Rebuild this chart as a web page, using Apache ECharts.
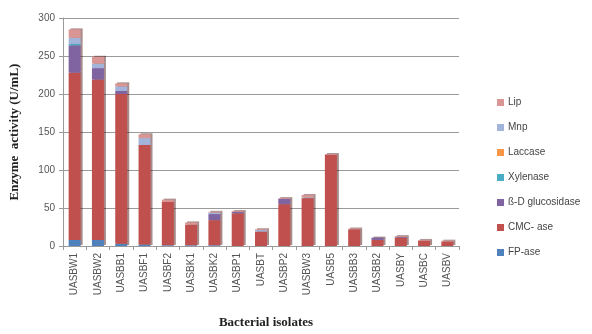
<!DOCTYPE html>
<html>
<head>
<meta charset="utf-8">
<script src="https://cdn.jsdelivr.net/npm/echarts@6/dist/echarts.min.js"></script>
<style>
html,body{margin:0;padding:0;background:#fff;}
#c{width:592px;height:334px;}
</style>
</head>
<body>
<div id="c"></div>
<script>
const categories = ["UASBW1","UASBW2","UASBB1","UASBF1","UASBF2","UASBK1","UASBK2","UASBP1","UASBT","UASBP2","UASBW3","UASB5","UASBB3","UASBB2","UASBY","UASBC","UASBV"];
const fpase      = [8, 8, 3, 2, 1, 1, 1, 0, 0, 0, 0, 0, 0, 0, 0, 0, 0];
const cmcase     = [220, 211, 197, 131, 57, 27, 33, 43, 19, 55, 63, 120, 22, 8, 11, 7, 6];
const glucosidase= [36, 15, 4, 0, 0, 0, 8, 2, 0, 7, 0, 0, 0, 3, 1, 0, 0];
const xylanase   = [2, 0, 0, 0, 0, 0, 0, 0, 0, 0, 0, 0, 0, 0, 0, 0, 0];
const laccase    = [0, 0, 0, 0, 0, 0, 0, 0, 0, 0, 0, 0, 0, 0, 0, 0, 0];
const mnp        = [8, 6, 6, 9, 0, 0, 2, 0, 2, 0, 1, 0, 0, 0, 0, 0, 0];
const lip        = [11, 9, 4, 5, 3, 3, 1, 1, 1, 1, 3, 1, 1, 0, 1, 1, 1];
const yTicks = [0, 50, 100, 150, 200, 250, 300];

const seriesDefs = [
  {name: "FP-ase", data: fpase, color: "#4F81BD"},
  {name: "CMC- ase", data: cmcase, color: "#C0504D"},
  {name: "ß-D glucosidase", data: glucosidase, color: "#8064A2"},
  {name: "Xylenase", data: xylanase, color: "#4BACC6"},
  {name: "Laccase", data: laccase, color: "#F79646"},
  {name: "Mnp", data: mnp, color: "#A3B4DA"},
  {name: "Lip", data: lip, color: "#D99694"}
];

const chart = echarts.init(document.getElementById('c'), null, {renderer: 'canvas'});
chart.setOption({
  animation: false,
  backgroundColor: "#ffffff",
  grid: {left: 63, right: 133, top: 18, bottom: 77, containLabel: false},
  legend: {
    orient: 'vertical',
    left: 492,
    top: 92,
    itemGap: 14,
    itemWidth: 7,
    itemHeight: 7,
    icon: 'rect',
    data: seriesDefs.map(s => s.name).reverse(),
    textStyle: {fontFamily: 'Liberation Sans', fontSize: 10, lineHeight: 11, color: '#444', padding: [0,0,0,-1]}
  },
  xAxis: {
    type: 'category',
    data: categories,
    name: 'Bacterial isolates',
    nameLocation: 'middle',
    nameGap: 70,
    nameTextStyle: {fontFamily: 'Liberation Serif', fontWeight: 'bold', fontSize: 13, color: '#222', padding: [0,0,0,10]},
    axisLine: {lineStyle: {color: '#999'}},
    axisTick: {show: true, alignWithLabel: false, length: 4, lineStyle: {color: '#999'}},
    axisLabel: {rotate: 90, fontFamily: 'Liberation Sans', fontSize: 10, color: '#555', margin: 7, interval: 0}
  },
  yAxis: {
    type: 'value',
    min: 0, max: 300, interval: 50,
    name: 'Enzyme  activity (U/mL)',
    nameLocation: 'middle',
    nameGap: 42,
    nameRotate: 90,
    nameTextStyle: {fontFamily: 'Liberation Serif', fontWeight: 'bold', fontSize: 13, color: '#222'},
    axisLine: {show: true, lineStyle: {color: '#999'}},
    axisTick: {show: true, length: 4, lineStyle: {color: '#999'}},
    axisLabel: {fontFamily: 'Liberation Sans', fontSize: 10, color: '#555', margin: 8,
      formatter: v => yTicks.includes(v) ? String(v) : ''},
    splitLine: {show: true, lineStyle: {color: '#9a9a9a', width: 1}}
  },
  series: seriesDefs.map(s => ({
    name: s.name,
    type: 'bar',
    stack: 'total',
    barWidth: 12,
    data: s.data,
    itemStyle: {color: s.color, shadowColor: 'rgba(60,0,0,0.45)', shadowOffsetX: 2, shadowOffsetY: -1, shadowBlur: 0}
  }))
});
</script>
</body>
</html>
